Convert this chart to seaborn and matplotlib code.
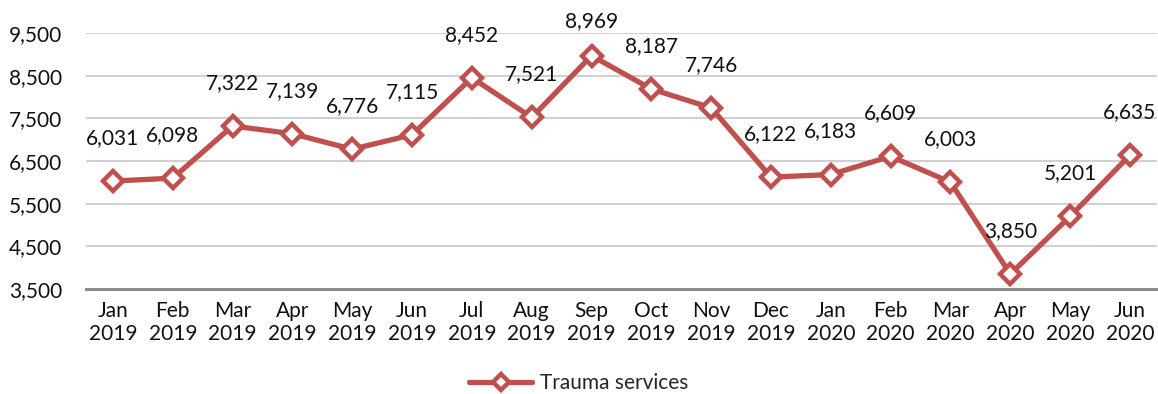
import matplotlib
matplotlib.use("Agg")
import matplotlib.pyplot as plt
import seaborn as sns
import pandas as pd

months = ["Jan\n2019", "Feb\n2019", "Mar\n2019", "Apr\n2019", "May\n2019", "Jun\n2019",
          "Jul\n2019", "Aug\n2019", "Sep\n2019", "Oct\n2019", "Nov\n2019", "Dec\n2019",
          "Jan\n2020", "Feb\n2020", "Mar\n2020", "Apr\n2020", "May\n2020", "Jun\n2020"]
trauma = [6031, 6098, 7322, 7139, 6776, 7115, 8452, 7521, 8969,
          8187, 7746, 6122, 6183, 6609, 6003, 3850, 5201, 6635]
y_ticks = [3500, 4500, 5500, 6500, 7500, 8500, 9500]
series_name = "Trauma services"

sns.set_theme(style="white")
plt.rcParams["font.family"] = ["Lato", "DejaVu Sans"]

RED = "#C0504D"
TEXT = "#111111"
FS = 15
df = pd.DataFrame({"month": months, "value": trauma, "series": series_name})

fig = plt.figure(figsize=(11.58, 3.94), dpi=100)
ax = fig.add_axes([0.0743, 0.2665, 0.9247, 0.6497])

sns.lineplot(data=df, x="month", y="value", hue="series", palette=[RED],
             sort=False, marker="D", markersize=10, markerfacecolor="white",
             markeredgecolor=RED, markeredgewidth=3.2, linewidth=3.8,
             ax=ax, legend=False, zorder=3)

ax.set_ylim(3500, 9500)
ax.set_xlim(-0.45, len(months) - 0.55)
ax.set_yticks(y_ticks)
ax.set_yticklabels([f"{v:,}" for v in y_ticks], fontsize=FS, color=TEXT)
ax.set_xticks(range(len(months)))
ax.set_xticklabels(months, fontsize=FS, color=TEXT, linespacing=1.15)
ax.tick_params(axis="x", length=0, pad=9)
ax.tick_params(axis="y", length=0, pad=17)
ax.set_xlabel("")
ax.set_ylabel("")

for v in y_ticks[1:]:
    ax.axhline(v, color="#D0D0D0", linewidth=1.5, zorder=1)
for side in ["top", "right", "left"]:
    ax.spines[side].set_visible(False)
ax.spines["bottom"].set_color("#8C8C8C")
ax.spines["bottom"].set_linewidth(2.2)

# value labels sit above each point, kept inside the top edge of the figure
fig_h_px = fig.get_figheight() * fig.dpi
for i, v in enumerate(trauma):
    _, y_px = ax.transData.transform((i, v))
    lift_px = min(43, fig_h_px - 21 - y_px)
    ax.annotate(f"{v:,}", (i, v), xytext=(0, lift_px * 72 / fig.dpi),
                textcoords="offset points", ha="center", va="center",
                fontsize=FS, color=TEXT, annotation_clip=False, zorder=4)

handle = plt.Line2D([], [], color=RED, linewidth=3.8, marker="D", markersize=8,
                    markerfacecolor="white", markeredgecolor=RED, markeredgewidth=3.2)
fig.legend([handle], [series_name], loc="center", bbox_to_anchor=(0.5, 0.028),
           frameon=False, fontsize=FS, handlelength=3.0, handletextpad=0.4)

fig.savefig("out.png", dpi=100)
